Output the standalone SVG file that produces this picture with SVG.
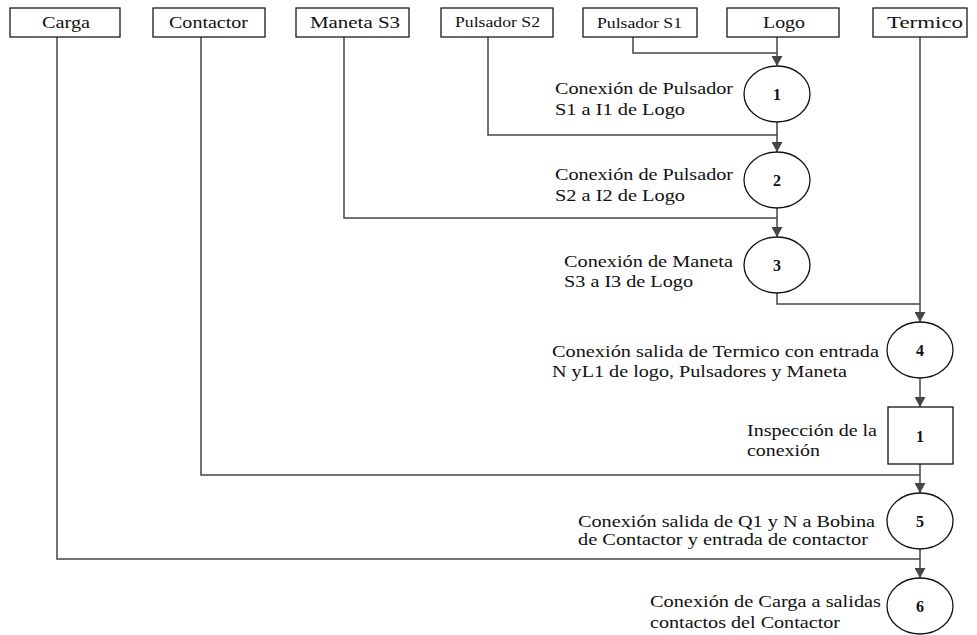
<svg xmlns="http://www.w3.org/2000/svg" width="977" height="635" viewBox="0 0 977 635">
  <style>
    .box { fill: #ffffff; stroke: #1a1a1a; stroke-width: 1.3; }
    .step { fill: #ffffff; stroke: #111111; stroke-width: 1.3; }
    .wire { fill: none; stroke: #454545; stroke-width: 1.5; }
    text { font-family: "Liberation Serif", "Times New Roman", Times, serif; fill: #111111; }
    .lbl { font-size: 16px; }
    .txt { font-size: 17px; }
    .num { font-size: 16px; font-weight: bold; text-anchor: middle; }
  </style>
  <defs>
    <marker id="arrow" viewBox="0 0 10 11" refX="10" refY="5.5" markerWidth="10" markerHeight="11" markerUnits="userSpaceOnUse" orient="auto">
      <path d="M0,0 L10,5.5 L0,11 Z" fill="#454545"/>
    </marker>
  </defs>

  <rect width="977" height="635" fill="#ffffff"/>

  <!-- connectors -->
  <g id="connectors">
    <path class="wire" d="M633,37 V53 H777"/>
    <path class="wire" d="M777,37 V66" marker-end="url(#arrow)"/>
    <path class="wire" d="M777,122 V152" marker-end="url(#arrow)"/>
    <path class="wire" d="M488,37 V135 H777"/>
    <path class="wire" d="M777,208 V237" marker-end="url(#arrow)"/>
    <path class="wire" d="M344,37 V218 H777"/>
    <path class="wire" d="M777,293 V304 H920"/>
    <path class="wire" d="M920,37 V322" marker-end="url(#arrow)"/>
    <path class="wire" d="M920,378 V407" marker-end="url(#arrow)"/>
    <path class="wire" d="M920,464 V493" marker-end="url(#arrow)"/>
    <path class="wire" d="M201,37 V475 H920"/>
    <path class="wire" d="M920,549 V578" marker-end="url(#arrow)"/>
    <path class="wire" d="M57,37 V559 H920"/>
  </g>

  <!-- source components -->
  <g id="carga">
    <rect class="box" x="10" y="8" width="110" height="29"/>
    <text class="lbl" x="42" y="28" textLength="48" lengthAdjust="spacingAndGlyphs">Carga</text>
  </g>
  <g id="contactor">
    <rect class="box" x="153" y="8" width="112" height="29"/>
    <text class="lbl" x="169" y="28" textLength="79" lengthAdjust="spacingAndGlyphs">Contactor</text>
  </g>
  <g id="maneta-s3">
    <rect class="box" x="296" y="8" width="113" height="29"/>
    <text class="lbl" x="310" y="28" textLength="90" lengthAdjust="spacingAndGlyphs">Maneta S3</text>
  </g>
  <g id="pulsador-s2">
    <rect class="box" x="441" y="8" width="112" height="29"/>
    <text class="lbl" x="455" y="27" textLength="85" lengthAdjust="spacingAndGlyphs" style="font-size:15px">Pulsador S2</text>
  </g>
  <g id="pulsador-s1">
    <rect class="box" x="583" y="8" width="114" height="29"/>
    <text class="lbl" x="597" y="28" textLength="85" lengthAdjust="spacingAndGlyphs" style="font-size:15px">Pulsador S1</text>
  </g>
  <g id="logo">
    <rect class="box" x="727" y="8" width="112" height="29"/>
    <text class="lbl" x="763" y="28" textLength="42" lengthAdjust="spacingAndGlyphs">Logo</text>
  </g>
  <g id="termico">
    <rect class="box" x="873" y="8" width="94" height="29"/>
    <text class="lbl" x="887" y="28" textLength="76" lengthAdjust="spacingAndGlyphs">Termico</text>
  </g>

  <!-- process steps -->
  <g id="op1">
    <ellipse class="step" cx="777" cy="94" rx="33" ry="28"/>
    <text class="num" x="777" y="100">1</text>
    <text class="txt" x="555" y="94" textLength="178" lengthAdjust="spacingAndGlyphs">Conexión de Pulsador</text>
    <text class="txt" x="555" y="115" textLength="130" lengthAdjust="spacingAndGlyphs">S1 a I1 de Logo</text>
  </g>
  <g id="op2">
    <ellipse class="step" cx="777" cy="180" rx="33" ry="28"/>
    <text class="num" x="777" y="186">2</text>
    <text class="txt" x="555" y="180" textLength="178" lengthAdjust="spacingAndGlyphs">Conexión de Pulsador</text>
    <text class="txt" x="555" y="201" textLength="130" lengthAdjust="spacingAndGlyphs">S2 a I2 de Logo</text>
  </g>
  <g id="op3">
    <ellipse class="step" cx="777" cy="265" rx="33" ry="28"/>
    <text class="num" x="777" y="271">3</text>
    <text class="txt" x="564" y="267" textLength="169" lengthAdjust="spacingAndGlyphs">Conexión de Maneta</text>
    <text class="txt" x="564" y="287" textLength="129" lengthAdjust="spacingAndGlyphs">S3 a I3 de Logo</text>
  </g>
  <g id="op4">
    <ellipse class="step" cx="920" cy="350" rx="33" ry="28"/>
    <text class="num" x="920" y="356">4</text>
    <text class="txt" x="552" y="357" textLength="327" lengthAdjust="spacingAndGlyphs">Conexión salida de Termico con entrada</text>
    <text class="txt" x="552" y="377" textLength="295" lengthAdjust="spacingAndGlyphs">N yL1 de logo, Pulsadores y Maneta</text>
  </g>
  <g id="insp1">
    <rect class="step" x="888" y="407" width="65" height="57"/>
    <text class="num" x="920" y="442">1</text>
    <text class="txt" x="747" y="436" textLength="130" lengthAdjust="spacingAndGlyphs">Inspección de la</text>
    <text class="txt" x="747" y="456" textLength="73" lengthAdjust="spacingAndGlyphs">conexión</text>
  </g>
  <g id="op5">
    <ellipse class="step" cx="920" cy="521" rx="33" ry="28"/>
    <text class="num" x="920" y="527">5</text>
    <text class="txt" x="578" y="527" textLength="297" lengthAdjust="spacingAndGlyphs">Conexión salida de Q1 y N a Bobina</text>
    <text class="txt" x="578" y="545" textLength="290" lengthAdjust="spacingAndGlyphs">de Contactor y entrada de contactor</text>
  </g>
  <g id="op6">
    <ellipse class="step" cx="920" cy="606" rx="33" ry="28"/>
    <text class="num" x="920" y="612">6</text>
    <text class="txt" x="650" y="607" textLength="231" lengthAdjust="spacingAndGlyphs">Conexión de Carga a salidas</text>
    <text class="txt" x="650" y="628" textLength="190" lengthAdjust="spacingAndGlyphs">contactos del Contactor</text>
  </g>
</svg>
